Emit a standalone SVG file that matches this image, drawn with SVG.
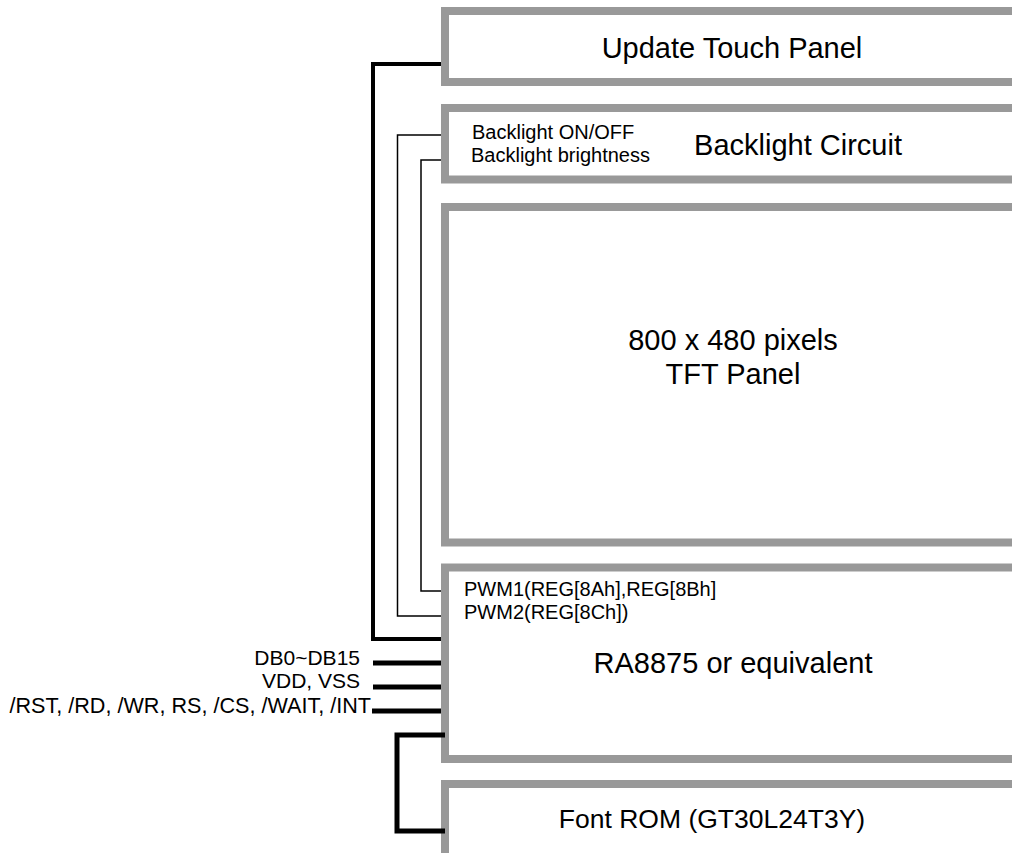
<svg xmlns="http://www.w3.org/2000/svg" width="1012" height="853" viewBox="0 0 1012 853">
<style>
.box{fill:#ffffff;stroke:#999999;stroke-width:8}
.big{font-family:"Liberation Sans",Arial,sans-serif;font-size:29px;fill:#000;text-anchor:middle}
.sm{font-family:"Liberation Sans",Arial,sans-serif;font-size:20px;fill:#000}
.lbl{font-family:"Liberation Sans",Arial,sans-serif;font-size:21px;fill:#000;text-anchor:end}
.thick{fill:none;stroke:#000;stroke-width:4}
.bus{fill:none;stroke:#000;stroke-width:5}
.thin{fill:none;stroke:#000;stroke-width:1.5}
</style>
<rect width="1012" height="853" fill="#ffffff"/>
<g id="update-touch-panel">
<rect class="box" x="445" y="11" width="700" height="71"/>
<text class="big" x="732" y="58">Update Touch Panel</text>
</g>
<g id="backlight-circuit">
<rect class="box" x="445" y="108" width="700" height="71.5"/>
<text class="sm" x="472" y="139">Backlight ON/OFF</text>
<text class="sm" x="471" y="162">Backlight brightness</text>
<text class="big" x="798" y="155">Backlight Circuit</text>
</g>
<g id="tft-panel">
<rect class="box" x="445" y="207" width="700" height="335.5"/>
<text class="big" x="733" y="350">800 x 480 pixels</text>
<text class="big" x="733" y="384">TFT Panel</text>
</g>
<g id="ra8875">
<rect class="box" x="445" y="567.5" width="700" height="191.5"/>
<text class="sm" x="464" y="596">PWM1(REG[8Ah],REG[8Bh]</text>
<text class="sm" x="464" y="619">PWM2(REG[8Ch])</text>
<text class="big" x="733" y="673">RA8875 or equivalent</text>
</g>
<g id="font-rom">
<rect class="box" x="445" y="784" width="700" height="120"/>
<text class="big" x="712" y="828" style="font-size:26.5px">Font ROM (GT30L24T3Y)</text>
</g>
<g id="connectors">
<polyline class="thick" points="441,64 373,64 373,639 441,639"/>
<polyline class="thin" points="441,135 397.5,135 397.5,616 441,616"/>
<polyline class="thin" points="441,160 421,160 421,591 441,591"/>
<line class="bus" x1="373" y1="663" x2="441" y2="663"/>
<line class="bus" x1="373" y1="687" x2="441" y2="687"/>
<line class="bus" x1="372" y1="711" x2="441" y2="711"/>
<polyline class="bus" points="445,735 397,735 397,831 445,831"/>
</g>
<g id="labels">
<text class="lbl" x="360" y="665">DB0~DB15</text>
<text class="lbl" x="360" y="688">VDD, VSS</text>
<text class="lbl" x="371" y="713" style="font-size:21.6px">/RST, /RD, /WR, RS, /CS, /WAIT, /INT</text>
</g>
</svg>
